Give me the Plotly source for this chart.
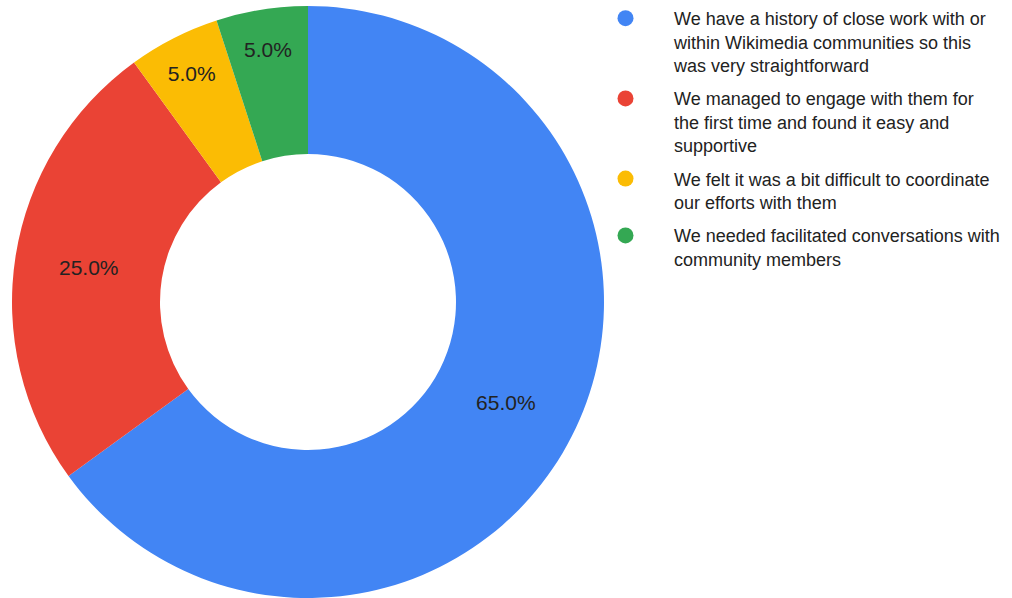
import plotly.graph_objects as go

categories = [
    "We have a history of close work with or<br>within Wikimedia communities so this<br>was very straightforward",
    "We managed to engage with them for<br>the first time and found it easy and<br>supportive",
    "We felt it was a bit difficult to coordinate<br>our efforts with them",
    "We needed facilitated conversations with<br>community members",
]
values = [65, 25, 5, 5]
colors = ["#4285F4", "#EA4335", "#FBBC04", "#34A853"]

fig = go.Figure()
fig.add_trace(go.Pie(
    labels=categories, values=values, hole=0.5, sort=False,
    direction="clockwise", rotation=0,
    marker=dict(colors=colors, line=dict(width=0)),
    textinfo="percent", texttemplate="%{percent:.1%}",
    textposition="inside", insidetextorientation="horizontal",
    textfont=dict(family="Liberation Sans, Arial", size=21, color="#222222"),
    showlegend=False,
    domain=dict(x=[12/1012, 604/1012], y=[0, 0.99]),
    hoverinfo="label+percent",
))
for i, (c, col) in enumerate(zip(categories, colors)):
    fig.add_trace(go.Scatter(
        x=[None], y=[None], mode="markers", name=c, legendgroup=str(i),
        marker=dict(color=col, size=16, symbol="circle"),
    ))

fig.update_layout(
    width=1012, height=598,
    margin=dict(l=0, r=0, t=0, b=0),
    paper_bgcolor="white", plot_bgcolor="white",
    xaxis=dict(visible=False), yaxis=dict(visible=False),
    legend=dict(
        x=577/1012, y=1, xanchor="left", yanchor="top",
        font=dict(family="Liberation Sans, Arial", size=18, color="#222222"),
        traceorder="grouped", tracegroupgap=7, itemwidth=87,
        valign="top",
        bgcolor="rgba(0,0,0,0)",
    ),
)
fig.write_html("out.html")
